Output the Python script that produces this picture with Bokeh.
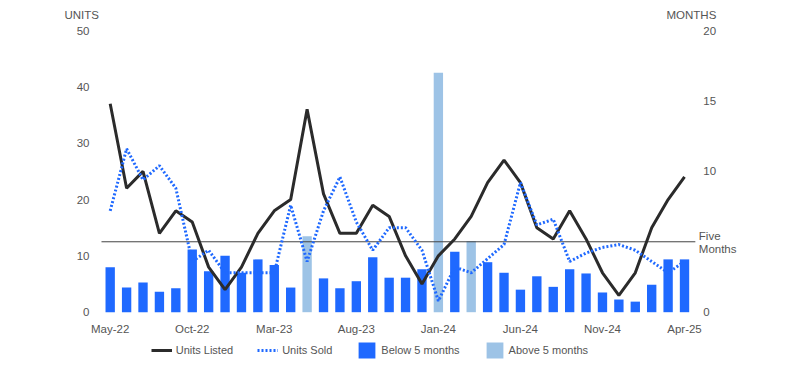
from bokeh.plotting import figure
from bokeh.models import (ColumnDataSource, Range1d, LinearAxis, FixedTicker,
                          Label, Legend, LegendItem)
from bokeh.embed import file_html
from bokeh.resources import INLINE

months = ["May-22", "Jun-22", "Jul-22", "Aug-22", "Sep-22", "Oct-22", "Nov-22", "Dec-22",
          "Jan-23", "Feb-23", "Mar-23", "Apr-23", "May-23", "Jun-23", "Jul-23", "Aug-23",
          "Sep-23", "Oct-23", "Nov-23", "Dec-23", "Jan-24", "Feb-24", "Mar-24", "Apr-24",
          "May-24", "Jun-24", "Jul-24", "Aug-24", "Sep-24", "Oct-24", "Nov-24", "Dec-24",
          "Jan-25", "Feb-25", "Mar-25", "Apr-25"]
units_listed = [37, 22, 25, 14, 18, 16, 8, 4, 8, 14, 18, 20, 36, 21, 14, 14, 19, 17, 10, 5,
                10, 13, 17, 23, 27, 23, 15, 13, 18, 13, 7, 3, 7, 15, 20, 24]
units_sold = [18, 29, 23.5, 26, 22, 9, 11, 7, 7, 7, 7, 19, 9, 18, 24, 16, 11, 15, 15, 11,
              2, 8, 7, 9.5, 12, 23, 15.5, 16.5, 9, 10.5, 11.5, 12, 11, 9, 7, 9]
months_inventory = [3.2, 1.75, 2.1, 1.45, 1.7, 4.45, 2.9, 4.0, 2.8, 3.75, 3.35, 1.75, 5.4, 2.4,
                    1.7, 2.2, 3.9, 2.45, 2.45, 3.05, 17.0, 4.3, 5.05, 3.55, 2.8, 1.6, 2.55, 1.8,
                    3.05, 2.75, 1.4, 0.9, 0.75, 1.95, 3.75, 3.75]
threshold = 5
x_tick_idx = [0, 5, 10, 15, 20, 25, 30, 35]
left_ticks = [0, 10, 20, 30, 40, 50]
right_ticks = [0, 10, 15, 20]

FONT = "Liberation Sans"
TXT = "#555555"

# plot-area edges (data units) and overall extended ranges so every text sits in the frame
X_LEFT, X_RIGHT = -0.53, 35.66
XR = (-6.685, 42.068)
YR = (-8.928, 55.325)
RATIO = 20 / 50  # right axis (months) per left axis (units)

idx = list(range(len(months)))
below_x = [i for i in idx if months_inventory[i] <= threshold]
below_v = [months_inventory[i] for i in below_x]
above_x = [i for i in idx if months_inventory[i] > threshold]
above_v = [months_inventory[i] for i in above_x]

p = figure(width=800, height=362, output_backend="svg", toolbar_location=None,
           x_range=Range1d(*XR), y_range=Range1d(*YR), min_border=0)
p.outline_line_color = None
p.xgrid.grid_line_color = None
p.ygrid.grid_line_color = None
p.extra_y_ranges = {"months": Range1d(YR[0] * RATIO, YR[1] * RATIO)}

# axes
p.xaxis.ticker = FixedTicker(ticks=x_tick_idx)
p.xaxis.major_label_overrides = {i: months[i] for i in x_tick_idx}
p.xaxis.fixed_location = 0
p.yaxis.ticker = FixedTicker(ticks=left_ticks)
p.yaxis.fixed_location = X_LEFT

raxis = LinearAxis(y_range_name="months", ticker=FixedTicker(ticks=right_ticks))
raxis.fixed_location = X_RIGHT
p.add_layout(raxis, "right")

for ax in [p.xaxis[0], p.yaxis[0], raxis]:
    ax.axis_line_color = None
    ax.major_tick_line_color = None
    ax.minor_tick_line_color = None
    ax.major_label_text_font = FONT
    ax.major_label_text_font_size = "11.5px"
    ax.major_label_text_color = TXT
p.xaxis.major_label_standoff = 5
p.yaxis.major_label_standoff = 6
raxis.major_label_standoff = 2

# bars
r_below = p.vbar(x=below_x, top=below_v, width=0.57, y_range_name="months",
                 fill_color="#1F69FF", line_color=None)
r_above = p.vbar(x=above_x, top=above_v, width=0.57, y_range_name="months",
                 fill_color="#9DC3E6", line_color=None)

# threshold line across the plot area
p.segment(x0=[X_LEFT], x1=[X_RIGHT], y0=[threshold], y1=[threshold], y_range_name="months",
          line_color="#444444", line_width=1)

# lines
src = ColumnDataSource(dict(x=idx, listed=units_listed, sold=units_sold))
r_listed = p.line("x", "listed", source=src, line_color="#2B2B2B", line_width=3)
r_sold = p.line("x", "sold", source=src, line_color="#1F69FF", line_width=3,
                line_dash="2 2")

# texts
def lab(x, y, t, **kw):
    p.add_layout(Label(x=x, y=y, text=t, text_font=FONT, text_font_size="11.5px",
                       text_color=TXT, text_baseline="middle", **kw))

lab(-2.785, 52.7, "UNITS")
lab(33.90, 52.7, "MONTHS")
lab(35.87, 13.52, "Five")
lab(35.87, 11.3, "Months")

legend = Legend(items=[LegendItem(label="Units Listed", renderers=[r_listed]),
                       LegendItem(label="Units Sold", renderers=[r_sold]),
                       LegendItem(label="Below 5 months", renderers=[r_below]),
                       LegendItem(label="Above 5 months", renderers=[r_above])],
                location=(150.7, 2.3), orientation="horizontal",
                glyph_width=21, glyph_height=20, label_standoff=4, spacing=24,
                padding=0, margin=0, border_line_color=None, background_fill_alpha=0,
                label_text_font=FONT, label_text_font_size="11px", label_text_color=TXT,
                label_height=20)
p.add_layout(legend)

open("out.html", "w").write(file_html(p, INLINE))
